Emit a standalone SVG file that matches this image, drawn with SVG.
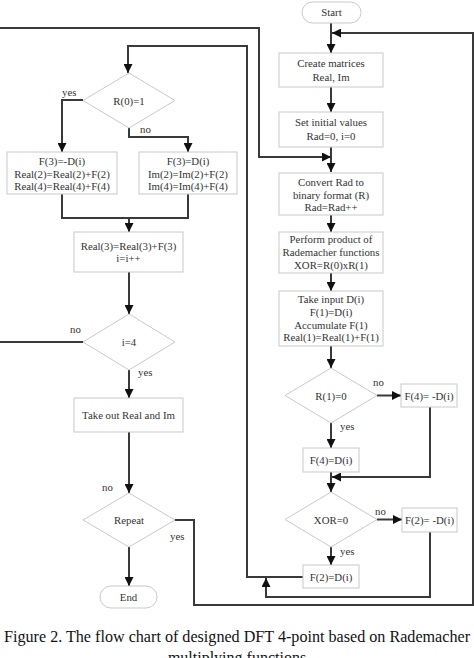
<svg xmlns="http://www.w3.org/2000/svg" width="474" height="658" viewBox="0 0 474 658">
<style>
.box{fill:#fff;stroke:#c9c9c9;stroke-width:1}
.t{font-family:"Liberation Serif","Times New Roman",serif;font-size:10.8px;fill:#333;text-anchor:middle}
.l{font-family:"Liberation Serif","Times New Roman",serif;font-size:10.8px;fill:#333}
.c{fill:none;stroke:#3a3a3a;stroke-width:2}
.cap{font-family:"Liberation Serif","Times New Roman",serif;font-size:16px;fill:#111;text-anchor:middle}
</style>
<defs>
<marker id="ah" viewBox="0 0 10 10" refX="10" refY="5" markerWidth="9" markerHeight="9" markerUnits="userSpaceOnUse" orient="auto"><path d="M0,0 L10,5 L0,10 z" fill="#111"/></marker>
</defs>
<rect width="474" height="658" fill="#fff"/>
<g id="connectors">
<path class="c" d="M331,23 V53" marker-end="url(#ah)"/>
<path class="c" d="M331,87 V112" marker-end="url(#ah)"/>
<path class="c" d="M331,147 V172" marker-end="url(#ah)"/>
<path class="c" d="M0,28 H259 V157 H331" marker-end="url(#ah)"/>
<path class="c" d="M331,215 V232" marker-end="url(#ah)"/>
<path class="c" d="M331,273 V291" marker-end="url(#ah)"/>
<path class="c" d="M331,346 V368" marker-end="url(#ah)"/>
<path class="c" d="M377,395.5 H401" marker-end="url(#ah)"/>
<path class="c" d="M331,423 V448" marker-end="url(#ah)"/>
<path class="c" d="M430,407 V477 H332" marker-end="url(#ah)"/>
<path class="c" d="M331,472 V492" marker-end="url(#ah)"/>
<path class="c" d="M377,519.5 H402" marker-end="url(#ah)"/>
<path class="c" d="M331,547 V565" marker-end="url(#ah)"/>
<path class="c" d="M430,532 V597 H266 V578" marker-end="url(#ah)"/>
<path class="c" d="M303,577 H247 V46 H128 V73" marker-end="url(#ah)"/>
<path class="c" d="M83,100 H62 V152" marker-end="url(#ah)"/>
<path class="c" d="M129,128 V137 H188 V152" marker-end="url(#ah)"/>
<path class="c" d="M62,194 V218 H188 V194"/>
<path class="c" d="M129,218 V232" marker-end="url(#ah)"/>
<path class="c" d="M129,272 V314" marker-end="url(#ah)"/>
<path class="c" d="M83,342 H0"/>
<path class="c" d="M129,370 V398" marker-end="url(#ah)"/>
<path class="c" d="M129,432 V493" marker-end="url(#ah)"/>
<path class="c" d="M175,520 H194 V605 H473 V33 H332" marker-end="url(#ah)"/>
<path class="c" d="M129,547 V586" marker-end="url(#ah)"/>
<text class="l" x="62" y="96">yes</text>
<text class="l" x="140" y="133">no</text>
<text class="l" x="70" y="333">no</text>
<text class="l" x="138" y="376">yes</text>
<text class="l" x="102" y="491">no</text>
<text class="l" x="170" y="540">yes</text>
<text class="l" x="373" y="386">no</text>
<text class="l" x="340" y="430">yes</text>
<text class="l" x="375" y="515">no</text>
<text class="l" x="340" y="555">yes</text>
</g>
<g id="start"><rect class="box" x="302" y="2" width="59" height="21" rx="10.5"/><text class="t" x="331.5" y="16">Start</text></g>
<g id="create"><rect class="box" x="279" y="53" width="104" height="34"/><text class="t" x="331" y="67">Create matrices</text><text class="t" x="331" y="81">Real, Im</text></g>
<g id="init"><rect class="box" x="279" y="112" width="104" height="35"/><text class="t" x="331" y="126">Set initial values</text><text class="t" x="331" y="139.5">Rad=0, i=0</text></g>
<g id="convert"><rect class="box" x="279" y="173" width="104" height="42"/><text class="t" x="331" y="186">Convert Rad to</text><text class="t" x="331" y="198.5">binary format (R)</text><text class="t" x="331" y="211">Rad=Rad++</text></g>
<g id="product"><rect class="box" x="279" y="232" width="104" height="41"/><text class="t" x="331" y="243">Perform product of</text><text class="t" x="331" y="256">Rademacher functions</text><text class="t" x="331" y="269">XOR=R(0)xR(1)</text></g>
<g id="input"><rect class="box" x="279" y="291" width="104" height="55"/><text class="t" x="331" y="303">Take input D(i)</text><text class="t" x="331" y="316">F(1)=D(i)</text><text class="t" x="331" y="328.5">Accumulate F(1)</text><text class="t" x="331" y="341">Real(1)=Real(1)+F(1)</text></g>
<g id="r1"><polygon class="box" points="331,368 377,395.5 331,423 285,395.5"/><text class="t" x="331" y="399.5">R(1)=0</text></g>
<g id="f4neg"><rect class="box" x="401" y="384" width="56" height="23"/><text class="t" x="429" y="399.5" xml:space="preserve">F(4)= -D(i)</text></g>
<g id="f4pos"><rect class="box" x="303" y="448" width="56" height="24"/><text class="t" x="331" y="464">F(4)=D(i)</text></g>
<g id="xor"><polygon class="box" points="331,492 377,519.5 331,547 285,519.5"/><text class="t" x="331" y="523.5">XOR=0</text></g>
<g id="f2neg"><rect class="box" x="402" y="508" width="55" height="24"/><text class="t" x="429.5" y="524">F(2)= -D(i)</text></g>
<g id="f2pos"><rect class="box" x="303" y="565" width="56" height="23"/><text class="t" x="331" y="580.5">F(2)=D(i)</text></g>
<g id="r0"><polygon class="box" points="129,73 175,100.5 129,128 83,100.5"/><text class="t" x="129" y="104.5">R(0)=1</text></g>
<g id="yesbox"><rect class="box" x="7" y="152" width="110" height="42"/><text class="t" x="62" y="165">F(3)=-D(i)</text><text class="t" x="62" y="177.5">Real(2)=Real(2)+F(2)</text><text class="t" x="62" y="190">Real(4)=Real(4)+F(4)</text></g>
<g id="nobox"><rect class="box" x="139" y="152" width="98" height="42"/><text class="t" x="188" y="165">F(3)=D(i)</text><text class="t" x="188" y="177.5">Im(2)=Im(2)+F(2)</text><text class="t" x="188" y="190">Im(4)=Im(4)+F(4)</text></g>
<g id="real3"><rect class="box" x="74" y="232" width="109" height="40"/><text class="t" x="128.5" y="250">Real(3)=Real(3)+F(3)</text><text class="t" x="128.5" y="262">i=i++</text></g>
<g id="i4"><polygon class="box" points="129,314 175,342 129,370 83,342"/><text class="t" x="129" y="346">i=4</text></g>
<g id="takeout"><rect class="box" x="74" y="398" width="109" height="34"/><text class="t" x="128.5" y="418.5">Take out Real and Im</text></g>
<g id="repeat"><polygon class="box" points="129,493 175,520 129,547 83,520"/><text class="t" x="129" y="524">Repeat</text></g>
<g id="end"><rect class="box" x="100" y="586" width="57" height="22" rx="11"/><text class="t" x="128.5" y="601">End</text></g>
<g id="caption"><text class="cap" x="237" y="642" textLength="466" lengthAdjust="spacingAndGlyphs">Figure 2. The flow chart of designed DFT 4-point based on Rademacher</text><text class="cap" x="237" y="663">multiplying functions</text></g>
</svg>
